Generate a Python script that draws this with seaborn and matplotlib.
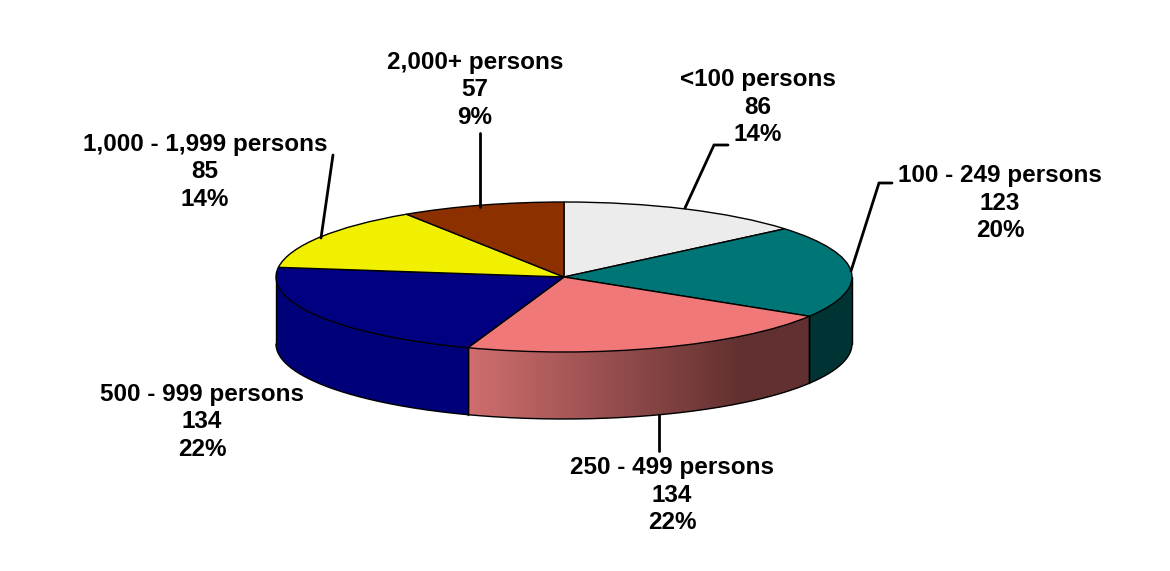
import numpy as np
import matplotlib
matplotlib.use("Agg")
import matplotlib.pyplot as plt
from matplotlib.colors import to_rgb
import seaborn as sns

# Data
categories = ["<100 persons", "100 - 249 persons", "250 - 499 persons",
              "500 - 999 persons", "1,000 - 1,999 persons", "2,000+ persons"]
counts = [86, 123, 134, 134, 85, 57]
top_colors = ["#ececec", "#007575", "#f07878", "#000080", "#f0f000", "#8c3000"]

# label centres and leader lines, in picture pixels
label_pos = [(758, 107), (1000, 203), (672, 495), (202, 422), (205, 172), (475, 90)]
leaders = [
    [(685, 208), (714, 145), (728, 145)],
    [(851, 271), (879, 183), (892, 183)],
    [(659, 415), (659, 451)],
    [],
    [(333, 155), (321, 238)],
    [(480, 133), (480, 207)],
]

# pie ellipse on the picture
CX, CY, RX, RY = 564, 277, 288, 75
DEPTH = 67 / RY

sns.set_theme(style="white")
plt.rcParams["font.family"] = ["Liberation Sans", "DejaVu Sans"]

W, H = 1170, 571
fig = plt.figure(figsize=(W / 100, H / 100), dpi=100, facecolor="white")
ax = fig.add_axes([0, 0, 1, 1])


def px(x):
    return (x - CX) / RX


def py(y):
    return (CY - y) / RY


def wall_colors(i, x):
    # only the pink slice has a real gradient on its side
    if i == 2:
        frac = np.clip((x - px(468)) / (px(740) - px(468)), 0, 1)[:, None]
        a, b = np.array(to_rgb("#cf6e6e")), np.array(to_rgb("#623030"))
        return a + (b - a) * frac
    base = "#003333" if i == 1 else "#000078"
    return np.tile(to_rgb(base), (len(x), 1))


# Side walls, only the front half of the pie shows
edges = np.cumsum([0] + counts) / sum(counts) * 360
for i in range(len(counts)):
    t0, t1 = max(edges[i], 90), min(edges[i + 1], 270)
    if t1 <= t0:
        continue
    t = np.radians(np.linspace(t0, t1, 241))
    x = np.sin(t)
    y = np.cos(t)
    mid = (x[:-1] + x[1:]) / 2
    ax.pcolormesh(np.vstack([x, x]), np.vstack([y, y - DEPTH]),
                  wall_colors(i, mid)[None, :, :], shading="flat",
                  linewidth=0, antialiased=False, zorder=1)
    ax.plot(x, y - DEPTH, color="black", lw=1, zorder=2)
    ax.plot([x[0], x[0]], [y[0], y[0] - DEPTH], color="black", lw=1, zorder=2)
    ax.plot([x[-1], x[-1]], [y[-1], y[-1] - DEPTH], color="black", lw=1, zorder=2)

# Top of the pie, squashed into an ellipse by the axes limits
wedges, _ = ax.pie(counts, colors=top_colors, startangle=90, counterclock=False,
                   radius=1, wedgeprops={"edgecolor": "black", "linewidth": 1})
for w in wedges:
    w.set_zorder(3)

# Labels
total = sum(counts)
for name, n, pos in zip(categories, counts, label_pos):
    ax.text(px(pos[0]), py(pos[1]), f"{name}\n{n}\n{n / total * 100:.0f}%",
            ha="center", va="center", fontsize=17.5, fontweight="bold",
            color="black", linespacing=1.27, zorder=5)

for pts in leaders:
    if pts:
        ax.plot([px(p[0]) for p in pts], [py(p[1]) for p in pts],
                color="black", lw=2, solid_joinstyle="miter", zorder=4)

ax.set_aspect("auto")
ax.set_xlim(px(0), px(W))
ax.set_ylim(py(H), py(0))
ax.axis("off")

fig.savefig("out.png", dpi=100, facecolor="white")
